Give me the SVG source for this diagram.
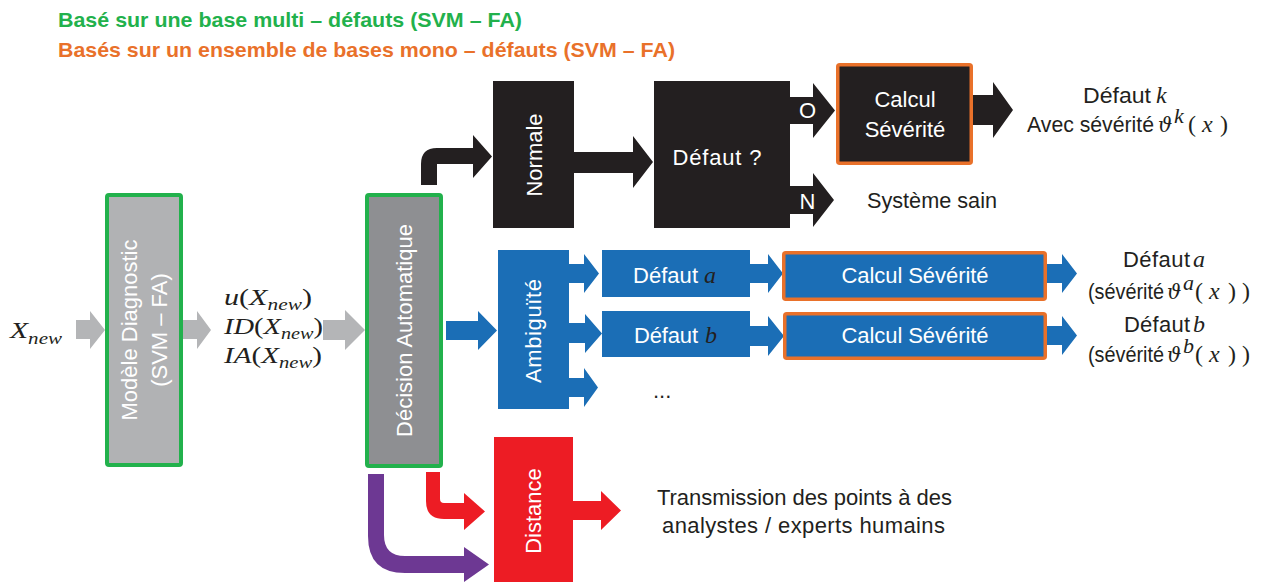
<svg xmlns="http://www.w3.org/2000/svg" width="1263" height="583" viewBox="0 0 1263 583">
<style>
.s{font-family:"Liberation Sans","Noto Sans",sans-serif;font-size:22px;fill:#231f20}
.w{fill:#ffffff}
.m{font-family:"Liberation Serif","DejaVu Serif",serif;font-style:italic;font-size:22px;fill:#231f20}
.mb{font-size:24px}
.th{font-family:"DejaVu Serif","Liberation Serif",serif;font-style:italic;font-size:20px;fill:#231f20}
.up{font-style:normal}
.t{font-family:"Liberation Sans","Noto Sans",sans-serif;font-weight:bold;font-size:21px}
.grn{stroke:#22b14c;stroke-width:4}
.org{stroke:#e9712a;stroke-width:3.5}
.gray{fill:#b4b5b7}
.blk{fill:#231f20}
.blu{fill:#1b6eb6}
.red{fill:#ed1c24}
.pur{fill:#6d3893}
</style>
<rect width="1263" height="583" fill="#ffffff"/>
<text class="t" x="58" y="27" fill="#22b14c" textLength="464" lengthAdjust="spacingAndGlyphs">Basé sur une base multi – défauts (SVM – FA)</text>
<text class="t" x="58" y="57" fill="#e9712a" textLength="617" lengthAdjust="spacingAndGlyphs">Basés sur un ensemble de bases mono – défauts (SVM – FA)</text>

<g id="connectors">
  <polygon class="gray" points="76,320 90,320 90,311 105,330 90,349 90,339 76,339"/>
  <polygon class="gray" points="183,320 197,320 197,311 211,330 197,349 197,339 183,339"/>
  <polygon class="gray" points="323,320 345,320 345,310 365,330 345,350 345,340 323,340"/>
  <path class="blk" d="M421,185 V164 Q421,148 437,148 H473 V135 L492,156.5 L473,178 V164 H437 V185 Z"/>
  <polygon class="blk" points="574,152 633,152 633,136 653,162 633,188 633,173 574,173"/>
  <polygon class="blk" points="790,97 813,97 813,83 835,110.5 813,138 813,124 790,124"/>
  <polygon class="blk" points="790,186 813,186 813,173 834,200 813,227 813,214 790,214"/>
  <polygon class="blk" points="973,95 993,95 993,82 1013,110 993,138 993,125 973,125"/>
  <polygon class="blu" points="446,321 478,321 478,311 497,330.5 478,350 478,340 446,340"/>
  <polygon class="blu" points="569,264 584,264 584,254 599,273.5 584,293 584,283 569,283"/>
  <polygon class="blu" points="569,323 585,323 585,314 602,333.5 585,353 585,343 569,343"/>
  <polygon class="blu" points="569,378 584,378 584,368 598,387.5 584,407 584,397 569,397"/>
  <polygon class="blu" points="750,264 768,264 768,254 783,273.5 768,293 768,283 750,283"/>
  <polygon class="blu" points="750,326 768,326 768,316 784,336 768,356 768,346 750,346"/>
  <polygon class="blu" points="1047,264 1062,264 1062,254 1077,273.5 1062,293 1062,283 1047,283"/>
  <polygon class="blu" points="1047,326 1062,326 1062,316 1077,335.5 1062,355 1062,345 1047,345"/>
  <path class="red" d="M426,472 V501 Q426,519 444,519 H464 V530 L485,511.5 L464,493 V503 H444 Q440,503 440,499 V472 Z"/>
  <polygon class="red" points="573,501 601,501 601,491 621,510.5 601,530 601,520 573,520"/>
  <path class="pur" d="M368,474 V536 Q368,573 405,573 H464 V582 L489,564.5 L464,547 V556 H405 Q384,556 384,535 V474 Z"/>
</g>

<g id="xnew">
  <text class="m mb" x="10" y="338" textLength="52" lengthAdjust="spacingAndGlyphs">X<tspan font-size="17" dy="6">new</tspan></text>
</g>

<g id="modele">
  <rect x="107" y="195" width="74" height="270" rx="2" fill="#b1b2b4" class="grn"/>
  <text class="s w" transform="translate(144,330) rotate(-90)" text-anchor="middle" y="-7">Modèle Diagnostic</text>
  <text class="s w" transform="translate(144,330) rotate(-90)" text-anchor="middle" y="23">(SVM – FA)</text>
</g>

<g id="outputs">
  <text class="m mb" x="224" y="305" textLength="88" lengthAdjust="spacingAndGlyphs">u<tspan class="up">(</tspan>X<tspan font-size="17" dy="5">new</tspan><tspan class="up" dy="-5">)</tspan></text>
  <text class="m mb" x="224" y="334" textLength="99" lengthAdjust="spacingAndGlyphs">ID<tspan class="up">(</tspan>X<tspan font-size="17" dy="5">new</tspan><tspan class="up" dy="-5">)</tspan></text>
  <text class="m mb" x="224" y="363" textLength="98" lengthAdjust="spacingAndGlyphs">IA<tspan class="up">(</tspan>X<tspan font-size="17" dy="5">new</tspan><tspan class="up" dy="-5">)</tspan></text>
</g>

<g id="decision">
  <rect x="367" y="195" width="74" height="271" rx="2" fill="#8e8f92" class="grn"/>
  <text class="s w" transform="translate(404,330.5) rotate(-90)" text-anchor="middle" y="8">Décision Automatique</text>
</g>

<g id="normale">
  <rect x="493" y="81" width="81" height="147" class="blk"/>
  <text class="s w" transform="translate(533.5,155) rotate(-90)" text-anchor="middle" y="8">Normale</text>
</g>

<g id="defaut-q">
  <rect x="654" y="81" width="136" height="147" class="blk"/>
  <text class="s w" x="717" y="165" text-anchor="middle" textLength="89">Défaut ?</text>
  <text class="s w" x="807.5" y="118" text-anchor="middle">O</text>
  <text class="s w" x="807.5" y="209" text-anchor="middle">N</text>
</g>

<g id="calcul-k">
  <rect x="837.75" y="64.75" width="133.5" height="98.5" rx="2" class="blk org"/>
  <text class="s w" x="905" y="107" text-anchor="middle">Calcul</text>
  <text class="s w" x="905" y="137" text-anchor="middle">Sévérité</text>
</g>

<g id="result-k">
  <text class="s" y="103"><tspan x="1083" textLength="68" lengthAdjust="spacingAndGlyphs">Défaut</tspan><tspan class="m mb" x="1156">k</tspan></text>
  <text class="s" x="1027" y="132" textLength="127" lengthAdjust="spacingAndGlyphs">Avec sévérité</text>
  <text class="th" x="1158" y="132">ϑ</text>
  <text class="m" x="1174" y="123" font-size="16">k</text>
  <text class="m mb" y="132"><tspan class="up" x="1188">(</tspan><tspan x="1202">x</tspan><tspan class="up" x="1220">)</tspan></text>
</g>

<g id="sain">
  <text class="s" x="867" y="208" textLength="130" lengthAdjust="spacingAndGlyphs">Système sain</text>
</g>

<g id="ambiguite">
  <rect x="498" y="250" width="71" height="159" class="blu"/>
  <text class="s w" transform="translate(533.5,331) rotate(-90)" text-anchor="middle" y="7" textLength="104">Ambiguïté</text>
</g>

<g id="defaut-a">
  <rect x="602" y="250" width="148" height="47" class="blu"/>
  <text class="s w" y="283"><tspan x="633" textLength="65">Défaut</tspan><tspan class="m mb w" x="704">a</tspan></text>
</g>

<g id="defaut-b">
  <rect x="602" y="311" width="148" height="46" class="blu"/>
  <text class="s w" y="343"><tspan x="634" textLength="64">Défaut</tspan><tspan class="m mb w" x="705">b</tspan></text>
</g>

<g id="etc">
  <text class="s" x="653" y="398" font-size="20">...</text>
</g>

<g id="calcul-a">
  <rect x="783.75" y="252.75" width="261.5" height="46.5" rx="2" class="blu org"/>
  <text class="s w" x="915" y="283" text-anchor="middle" textLength="147">Calcul Sévérité</text>
</g>

<g id="calcul-b">
  <rect x="784.75" y="313.75" width="260.5" height="44.5" rx="2" class="blu org"/>
  <text class="s w" x="915" y="343" text-anchor="middle" textLength="147">Calcul Sévérité</text>
</g>

<g id="result-a">
  <text class="s" y="267"><tspan x="1123" textLength="67">Défaut</tspan><tspan class="m mb" x="1193">a</tspan></text>
  <text class="s" x="1088" y="299" textLength="76" lengthAdjust="spacingAndGlyphs">(sévérité</text>
  <text class="th" x="1167" y="299">ϑ</text>
  <text class="m" x="1183" y="290" font-size="16">a</text>
  <text class="m mb" y="299"><tspan class="up" x="1195">(</tspan><tspan x="1209">x</tspan><tspan class="up" x="1228">)</tspan><tspan class="up" x="1242">)</tspan></text>
</g>

<g id="result-b">
  <text class="s" y="332"><tspan x="1124" textLength="66">Défaut</tspan><tspan class="m mb" x="1193">b</tspan></text>
  <text class="s" x="1088" y="362" textLength="76" lengthAdjust="spacingAndGlyphs">(sévérité</text>
  <text class="th" x="1167" y="362">ϑ</text>
  <text class="m" x="1183" y="353" font-size="16">b</text>
  <text class="m mb" y="362"><tspan class="up" x="1195">(</tspan><tspan x="1209">x</tspan><tspan class="up" x="1228">)</tspan><tspan class="up" x="1242">)</tspan></text>
</g>

<g id="distance">
  <rect x="494" y="437" width="79" height="145" class="red"/>
  <text class="s w" transform="translate(533.5,511) rotate(-90)" text-anchor="middle" y="7">Distance</text>
</g>

<g id="transmission">
  <text class="s" x="804.5" y="505" text-anchor="middle" textLength="295">Transmission des points à des</text>
  <text class="s" x="803.5" y="533" text-anchor="middle" textLength="283">analystes / experts humains</text>
</g>
</svg>
